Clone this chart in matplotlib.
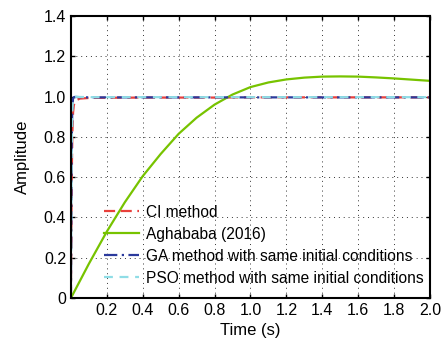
import matplotlib
matplotlib.use("Agg")
import matplotlib.pyplot as plt
import numpy as np

plt.rcParams['font.family'] = ['Liberation Sans', 'DejaVu Sans']

# time grid shared by the fast responses
t_fast = [0, 0.004, 0.008, 0.012, 0.016, 0.02, 0.03, 0.05, 0.1, 0.2, 0.4, 0.6,
          0.8, 1.0, 1.2, 1.4, 1.6, 1.8, 2.0]
ci_vals = [0, 0.55, 0.82, 0.92, 0.955, 0.97, 0.982, 0.99, 0.993, 0.994, 0.995,
           0.995, 0.995, 0.996, 0.996, 0.996, 0.996, 0.996, 0.996]
ga_vals = [0, 0.75, 0.95, 0.99, 0.997, 0.998, 0.998, 0.997, 0.996, 0.996, 0.996,
           0.996, 0.996, 0.996, 0.996, 0.996, 0.996, 0.996, 0.996]
pso_vals = [0, 0.7, 0.93, 0.985, 0.995, 0.998, 0.999, 0.998, 0.997, 0.997, 0.997,
            0.997, 0.997, 0.997, 0.997, 0.997, 0.997, 0.997, 0.997]

# Aghababa (2016) response
t_agh = [0, 0.1, 0.2, 0.3, 0.4, 0.5, 0.6, 0.7, 0.8, 0.9, 1.0, 1.1, 1.2, 1.3,
         1.4, 1.5, 1.6, 1.7, 1.8, 1.9, 2.0]
agh_vals = [0, 0.17, 0.33, 0.475, 0.605, 0.715, 0.815, 0.895, 0.96, 1.01, 1.047,
            1.07, 1.085, 1.094, 1.099, 1.100, 1.099, 1.095, 1.090, 1.084, 1.078]

xticks = [0.2, 0.4, 0.6, 0.8, 1.0, 1.2, 1.4, 1.6, 1.8, 2.0]
yticks = [0, 0.2, 0.4, 0.6, 0.8, 1.0, 1.2, 1.4]

fig = plt.figure(figsize=(4.46, 3.47), dpi=100)
ax = fig.add_axes([0.159, 0.141, 0.805, 0.813])

ax.plot(t_fast, ci_vals, color="#e8403c", linestyle=(0, (5, 2.5)), linewidth=1.6,
        label="CI method")
ax.plot(t_agh, agh_vals, color="#77c300", linewidth=1.6, label="Aghababa (2016)")
ax.plot(t_fast, ga_vals, color="#2b3a9c", linestyle=(0, (6, 2, 1, 2)), linewidth=1.6,
        label="GA method with same initial conditions")
ax.plot(t_fast, pso_vals, color="#8fdde6", linestyle=(0, (4, 3)), linewidth=1.6,
        label="PSO method with same initial conditions")

ax.set_xlim(0, 2.0)
ax.set_ylim(0, 1.4)
ax.set_xticks(xticks)
ax.set_xticklabels(["%.1f" % v for v in xticks])
ax.set_yticks(yticks)
ax.set_yticklabels(["0"] + ["%.1f" % v for v in yticks[1:]])
ax.tick_params(direction="in", top=True, right=True, labelsize=11.5, length=3, width=1)
ax.grid(True, linestyle=(0, (1, 4)), color="#333333", linewidth=0.7)
for s in ax.spines.values():
    s.set_linewidth(1.5)

ax.set_xlabel("Time (s)", fontsize=12, labelpad=4)
ax.set_ylabel("Amplitude", fontsize=12, labelpad=10)

ax.legend(loc="lower left", bbox_to_anchor=(0.063, 0.005), frameon=False,
          fontsize=11.2, handlelength=2.2, handletextpad=0.5, labelspacing=0.45,
          borderaxespad=0.3)

fig.savefig("out.png", dpi=100)
